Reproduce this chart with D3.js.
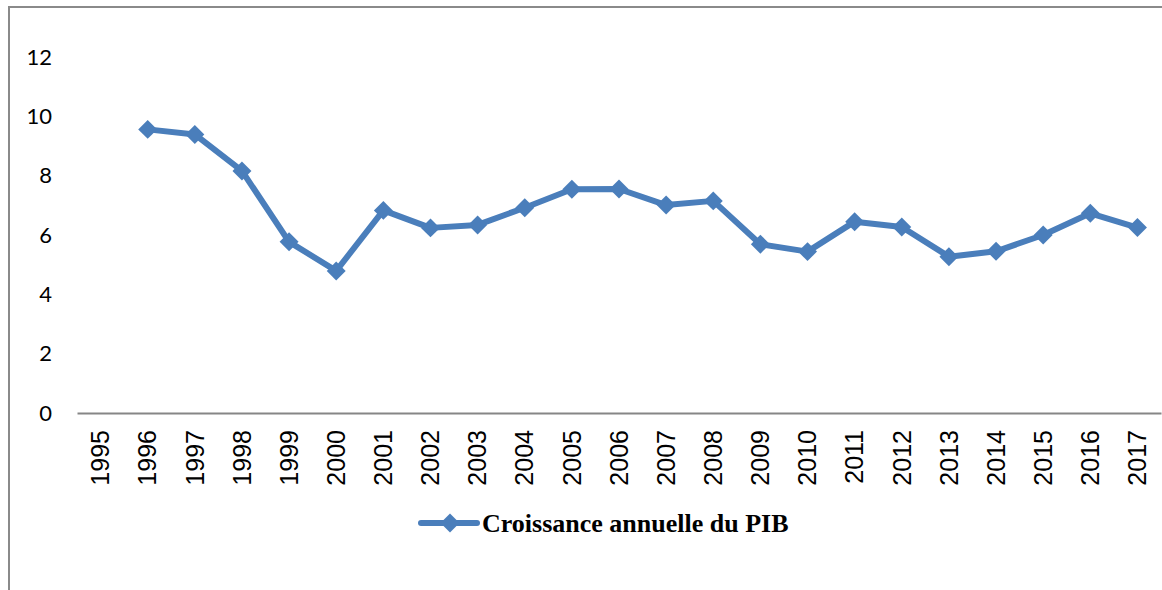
<!DOCTYPE html>
<html>
<head>
<meta charset="utf-8">
<script src="https://cdn.jsdelivr.net/npm/d3@7"></script>
<style>
  body { margin: 0; background: #fff; }
  svg { display: block; }
</style>
</head>
<body>
<svg id="chart" width="1162" height="590"></svg>
<script>
// Data
const years = ['1995', '1996', '1997', '1998', '1999', '2000', '2001', '2002', '2003', '2004', '2005', '2006',
  '2007', '2008', '2009', '2010', '2011', '2012', '2013', '2014', '2015', '2016', '2017'];
const growth = [null, 9.56, 9.39, 8.16, 5.77, 4.79, 6.83, 6.24, 6.34, 6.92, 7.54, 7.55,
  7.01, 7.15, 5.69, 5.44, 6.45, 6.27, 5.27, 5.45, 6.0, 6.73, 6.25];
const yTicks = [0, 2, 4, 6, 8, 10, 12];
const seriesName = 'Croissance annuelle du PIB';

const blue = '#4a7ebb';
const svg = d3.select('#chart');

// chart area frame (left + top edge only visible)
svg.append('rect')
  .attr('x', 9).attr('y', 7)
  .attr('width', 1170).attr('height', 600)
  .attr('fill', 'none')
  .attr('stroke', '#8a8a8a')
  .attr('stroke-width', 2);

const x = d3.scaleBand()
  .domain(years)
  .range([77, 1161])
  .padding(0);

const y = d3.scaleLinear()
  .domain([0, 12])
  .range([413, 57]);

// Y axis (labels only)
svg.append('g')
  .attr('transform', 'translate(77,0)')
  .call(d3.axisLeft(y).tickValues(yTicks).tickSize(0).tickPadding(25))
  .call(g => g.select('.domain').remove())
  .selectAll('text')
  .style('font-family', 'Lato, "Open Sans", sans-serif')
  .style('font-size', '22px')
  .attr('fill', '#000');

// X axis
svg.append('g')
  .attr('transform', 'translate(0,413)')
  .call(d3.axisBottom(x).tickSize(0).tickSizeOuter(0))
  .call(g => g.select('.domain').attr('stroke', '#868686').attr('stroke-width', 2))
  .selectAll('text')
  .attr('transform', 'rotate(-90)')
  .attr('x', -17)
  .attr('y', 0)
  .attr('dy', '0.35em')
  .style('text-anchor', 'end')
  .style('font-family', '"Liberation Sans", Arial, sans-serif')
  .style('font-size', '25px')
  .attr('fill', '#000');

// Line
const points = years.map((yr, i) => ({ yr, v: growth[i] })).filter(d => d.v != null);
const cx = d => x(d.yr) + x.bandwidth() / 2;

svg.append('path')
  .datum(points)
  .attr('fill', 'none')
  .attr('stroke', blue)
  .attr('stroke-width', 6)
  .attr('stroke-linejoin', 'round')
  .attr('d', d3.line().x(cx).y(d => y(d.v)));

const diamond = d3.symbol().type(d3.symbolSquare).size(180);
svg.append('g')
  .selectAll('path')
  .data(points)
  .join('path')
  .attr('transform', d => `translate(${cx(d)},${y(d.v)}) rotate(45)`)
  .attr('d', diamond)
  .attr('fill', blue);

// Legend
const legend = svg.append('g').attr('transform', 'translate(421,523)');
legend.append('line')
  .attr('x1', 0).attr('x2', 56)
  .attr('stroke', blue)
  .attr('stroke-width', 6)
  .attr('stroke-linecap', 'round');
legend.append('path')
  .attr('transform', 'translate(29,0) rotate(45)')
  .attr('d', diamond)
  .attr('fill', blue);
legend.append('text')
  .attr('x', 61)
  .attr('y', 9)
  .text(seriesName)
  .style('font-family', '"Liberation Serif", "Times New Roman", serif')
  .style('font-weight', 'bold')
  .style('font-size', '26px')
  .attr('fill', '#000');
</script>
</body>
</html>
